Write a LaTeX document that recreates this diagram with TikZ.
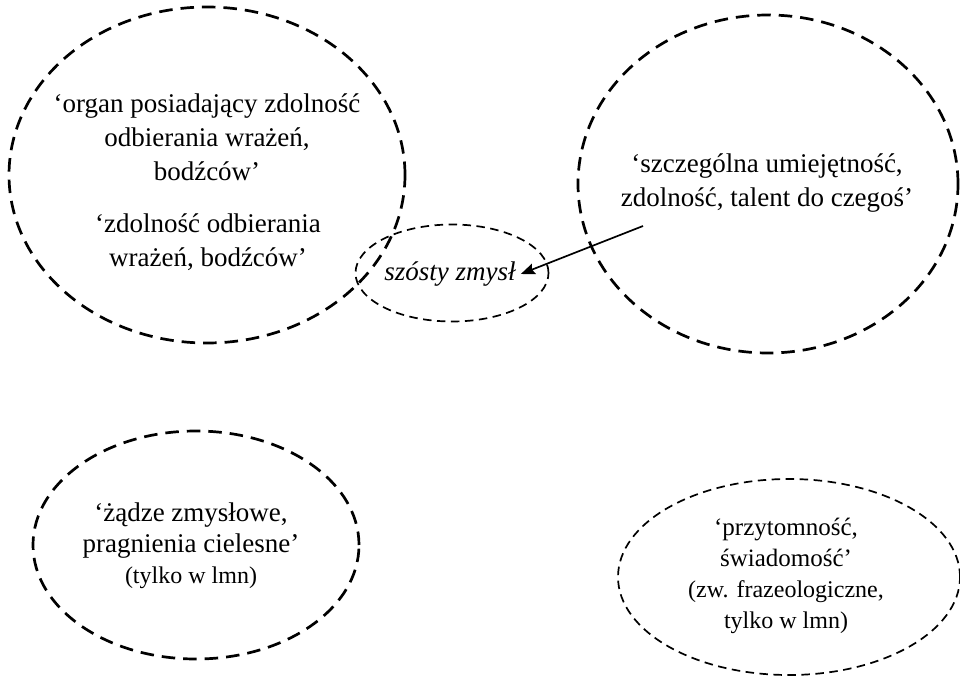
\documentclass[tikz,border=0pt]{standalone}
\usepackage{fontspec}
\setmainfont{Liberation Serif}
\usetikzlibrary{shapes.geometric,arrows.meta}
\begin{document}
\begin{tikzpicture}[x=1pt,y=-1pt,
  bigoval/.style={draw, ellipse, line width=2.7pt, dash pattern=on 13.5pt off 8pt, inner sep=0pt},
  smalloval/.style={draw, ellipse, line width=1.7pt, dash pattern=on 8.5pt off 5.5pt, inner sep=0pt},
  gloss/.style={align=center, font=\fontsize{27}{34}\selectfont, inner sep=2pt},
  glosssmall/.style={align=center, font=\fontsize{25}{31}\selectfont, inner sep=2pt},
  pointer/.style={line width=1.7pt, -{Stealth[length=14pt,width=11pt,inset=2pt]}}]
\useasboundingbox (0,0) rectangle (960,676);

% outlines
\node[bigoval, minimum width=396pt, minimum height=336pt] (organ) at (207,175) {};
\node[smalloval, minimum width=193pt, minimum height=97pt] (zmysl) at (452,273) {};
\node[bigoval, minimum width=380pt, minimum height=338pt] (talent) at (768,184) {};
\node[bigoval, minimum width=326pt, minimum height=228pt] (zadze) at (196,545) {};
\node[smalloval, minimum width=342pt, minimum height=196pt] (przyt) at (789,577) {};

% glosses
\node[gloss] (organtxt) at (207,137) {‘organ posiadający zdolność\\odbierania wrażeń,\\bodźców’};
\node[gloss] (zdoltxt) at (208,242) {‘zdolność odbierania\\wrażeń, bodźców’};
\node[gloss] (talenttxt) at (767,183) {‘szczególna umiejętność,\\zdolność, talent do czegoś’};
\node[gloss, font=\fontsize{27}{34}\itshape, inner xsep=5pt] (zmysltxt) at (450,274) {szósty zmysł};
\node[gloss, font=\fontsize{27}{31}\selectfont] (zadzetxt) at (191,546)
  {‘żądze zmysłowe,\\pragnienia cielesne’\\{\fontsize{24}{31}\selectfont (tylko w lmn)}};
\node[glosssmall] (przyttxt) at (786,576)
  {‘przytomność,\\świadomość’\\{\fontsize{24}{31}\selectfont (zw. frazeologiczne,}\\{\fontsize{24}{31}\selectfont tylko w lmn)}};

% arrow into the small oval
\coordinate (tail) at (643,226);
\draw[pointer] (tail) -- (zmysltxt.east);
\end{tikzpicture}
\end{document}
